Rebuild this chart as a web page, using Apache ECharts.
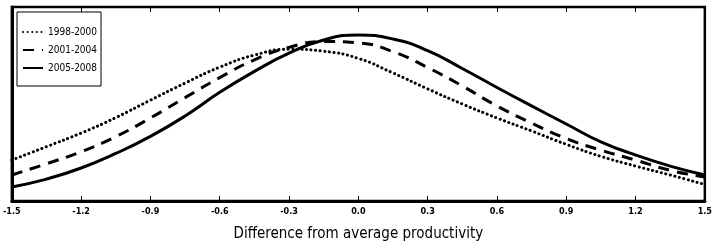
<!DOCTYPE html>
<html>
<head>
<meta charset="utf-8">
<script src="https://cdn.jsdelivr.net/npm/echarts@6/dist/echarts.min.js"></script>
<style>
  html, body { margin: 0; padding: 0; background: #fff; }
  #chart { width: 715px; height: 248px; }
</style>
</head>
<body>
<div id="chart"></div>
<script>
// x grid: -1.5 .. 1.5 step 0.15
const xs = [-1.5, -1.35, -1.2, -1.05, -0.9, -0.75, -0.6, -0.45, -0.3, -0.15, 0,
  0.15, 0.3, 0.45, 0.6, 0.75, 0.9, 1.05, 1.2, 1.35, 1.5];

// density (relative)
const d1998 = [0.211, 0.280, 0.350, 0.430, 0.520, 0.608, 0.690, 0.752, 0.782, 0.772, 0.735,
  0.660, 0.578, 0.500, 0.428, 0.361, 0.292, 0.230, 0.180, 0.134, 0.085];
const d2001 = [0.134, 0.192, 0.254, 0.332, 0.428, 0.533, 0.636, 0.728, 0.792, 0.822, 0.815,
  0.770, 0.688, 0.593, 0.490, 0.402, 0.322, 0.262, 0.211, 0.158, 0.124];
const d2005 = [0.072, 0.113, 0.170, 0.245, 0.333, 0.438, 0.560, 0.668, 0.762, 0.830, 0.856,
  0.835, 0.775, 0.683, 0.585, 0.490, 0.397, 0.305, 0.237, 0.180, 0.134];

const seriesNames = ['1998-2000', '2001-2004', '2005-2008'];
const xTicks = [-1.5, -1.2, -0.9, -0.6, -0.3, 0, 0.3, 0.6, 0.9, 1.2, 1.5];

const pair = (ys) => xs.map((x, i) => [x, ys[i]]);

const chart = echarts.init(document.getElementById('chart'));

const fontTick = '"DejaVu Sans Condensed", "DejaVu Sans", sans-serif';

const option = {
  animation: false,
  grid: {
    left: 6, right: 3, top: 7, bottom: 47,
    show: true,
    borderColor: '#000',
    borderWidth: 2.5
  },
  legend: {
    left: 17, top: 12,
    orient: 'vertical',
    data: seriesNames,
    backgroundColor: '#fff',
    borderColor: '#000',
    borderWidth: 1,
    borderRadius: 0,
    padding: [15, 4, 13, 5],
    itemGap: 8,
    itemWidth: 20,
    itemHeight: 12,
    itemStyle: { opacity: 0 },
    textStyle: { color: '#000', fontSize: 10, fontFamily: fontTick }
  },
  xAxis: [
    {
      type: 'value',
      min: -1.5, max: 1.5, interval: 0.3,
      axisLine: { show: true, onZero: false, lineStyle: { color: '#000', width: 3 } },
      axisTick: { show: true, inside: true, length: 5, lineStyle: { color: '#000', width: 1 } },
      splitLine: { show: false },
      axisLabel: {
        color: '#000', fontSize: 9, fontFamily: fontTick, fontWeight: 'bold', margin: 6,
        formatter: v => {
          const t = xTicks.find(k => Math.abs(k - v) < 1e-6);
          return t === undefined ? '' : t.toFixed(1);
        }
      },
      name: 'Difference from average productivity',
      nameLocation: 'middle',
      nameGap: 26,
      nameTextStyle: { color: '#000', fontSize: 15, fontFamily: fontTick, fontWeight: 'normal' }
    },
    {
      type: 'value', position: 'top',
      min: -1.5, max: 1.5, interval: 0.3,
      axisLine: { show: true, onZero: false, lineStyle: { color: '#000', width: 2 } },
      axisTick: { show: true, inside: true, length: 5, lineStyle: { color: '#000', width: 1 } },
      axisLabel: { show: false },
      splitLine: { show: false }
    }
  ],
  yAxis: {
    type: 'value', min: 0, max: 1,
    axisLine: { show: true, onZero: false, lineStyle: { color: '#000', width: 3 } },
    axisTick: { show: false },
    axisLabel: { show: false },
    splitLine: { show: false }
  },
  series: [
    {
      name: seriesNames[0], type: 'line', smooth: true, symbol: 'none',
      data: pair(d1998),
      lineStyle: { color: '#000', width: 3, type: [0.1, 4.5], cap: 'round' },
      itemStyle: { color: '#000' }
    },
    {
      name: seriesNames[1], type: 'line', smooth: true, symbol: 'none',
      data: pair(d2001),
      lineStyle: { color: '#000', width: 3, type: [11, 8] },
      itemStyle: { color: '#000' }
    },
    {
      name: seriesNames[2], type: 'line', smooth: true, symbol: 'none',
      data: pair(d2005),
      lineStyle: { color: '#000', width: 3 },
      itemStyle: { color: '#000' }
    }
  ]
};

chart.setOption(option);
</script>
</body>
</html>
